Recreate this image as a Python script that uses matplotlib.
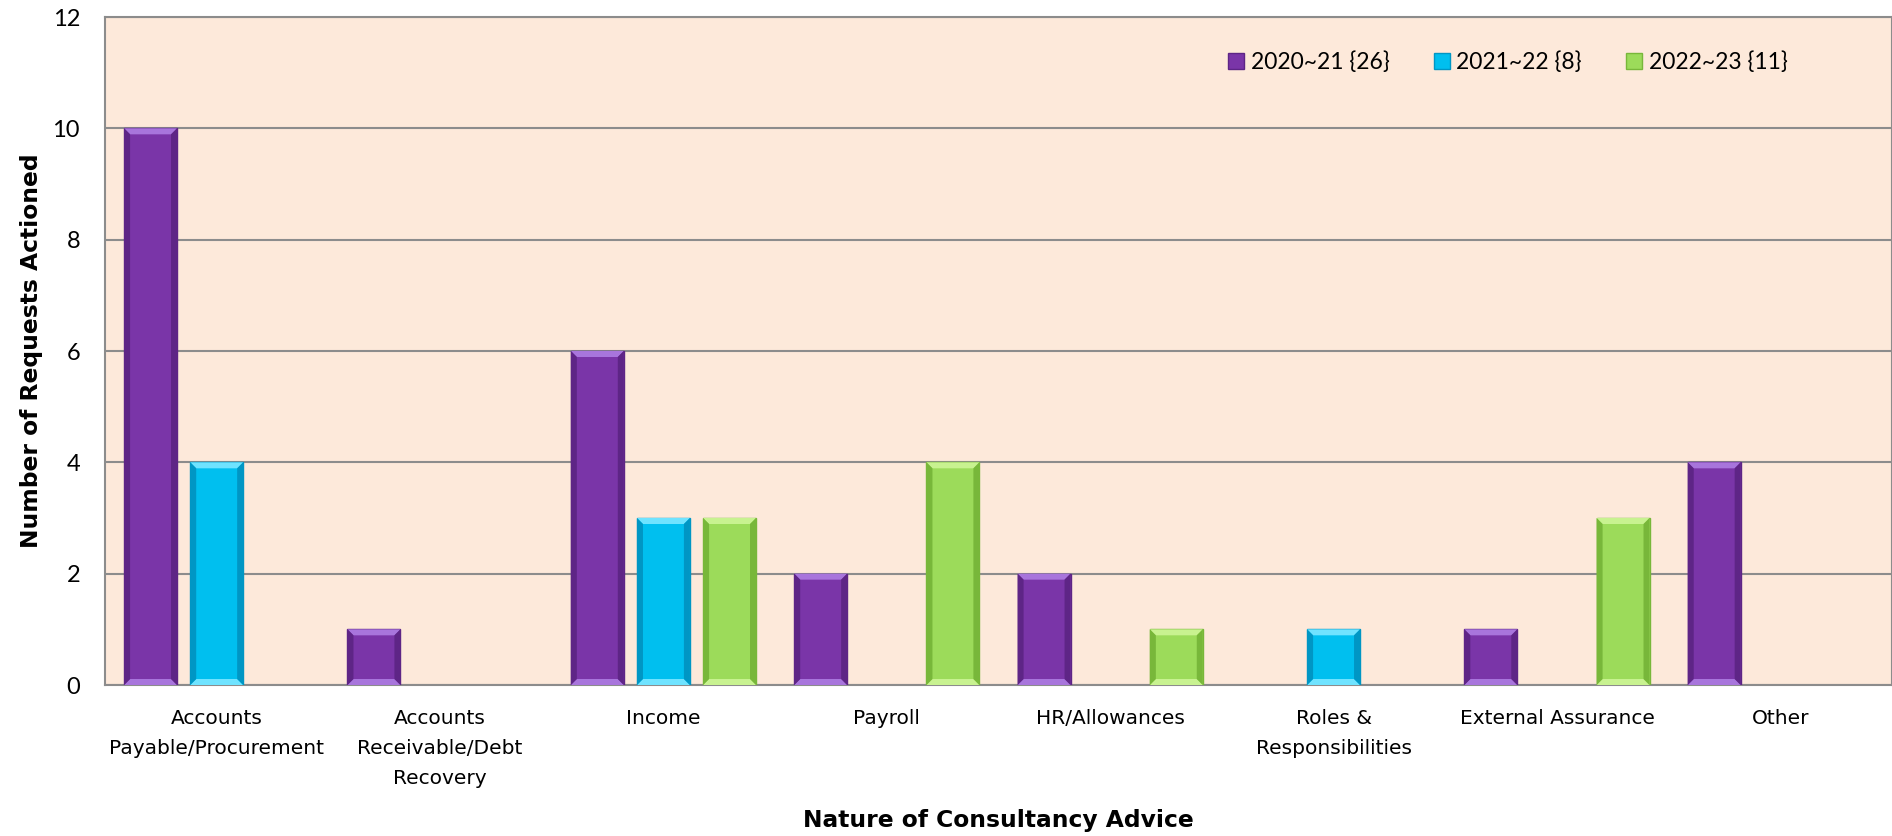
import numpy as np
import matplotlib as mpl
mpl.use('Agg')
import matplotlib.pyplot as plt
from matplotlib.patches import Polygon, Patch

# data
categories = ['Accounts\nPayable/Procurement', 'Accounts\nReceivable/Debt\nRecovery',
              'Income', 'Payroll', 'HR/Allowances', 'Roles &\nResponsibilities',
              'External Assurance', 'Other']
series_names = ['2020~21 {26}', '2021~22 {8}', '2022~23 {11}']
y2020 = [10, 1, 6, 2, 2, 0, 1, 4]
y2021 = [4, 0, 3, 0, 0, 1, 0, 0]
y2022 = [0, 0, 3, 4, 1, 0, 3, 0]

# face, light bevel, dark bevel
colors = [('#7A35A8', '#A875DC', '#5E2586'),
          ('#00BFEF', '#6FE3FF', '#0096C4'),
          ('#9CDB5A', '#C8F290', '#78B73A')]

bg = '#FDE9DA'
grid = '#8C8C8C'

fig = plt.figure(figsize=(18.92, 8.36), dpi=100)
ax = fig.add_axes([105/1892, 1-685/836, 1-105/1892, (685-17)/836])
ax.set_facecolor(bg)

x = np.arange(len(categories))
w = 0.237
step = 0.296
ymax = 12
# bevel size in px turned into data units
bev_px = 6
dy = bev_px * ymax / 668.0
dx = bev_px * 8 / 1787.0

for k, vals in enumerate([y2020, y2021, y2022]):
    face, light, dark = colors[k]
    vals = np.array(vals)
    xs = x + (k-1)*step
    keep = vals > 0   # empty bars draw nothing
    ax.bar(xs[keep], vals[keep], w, color=face, edgecolor=dark, linewidth=1, zorder=3)
    for xc, h in zip(xs[keep], vals[keep]):
        x0 = xc - w/2
        x1 = xc + w/2
        polys = [
            ([(x0, h), (x1, h), (x1-dx, h-dy), (x0+dx, h-dy)], light),
            ([(x0, 0), (x1, 0), (x1-dx, dy), (x0+dx, dy)], light),
            ([(x0, 0), (x0+dx, dy), (x0+dx, h-dy), (x0, h)], dark),
            ([(x1, 0), (x1-dx, dy), (x1-dx, h-dy), (x1, h)], dark),
        ]
        for pts, c in polys:
            ax.add_patch(Polygon(pts, closed=True, facecolor=c, edgecolor='none', zorder=4))

ax.set_xlim(-0.5, len(categories)-0.5)
ax.set_ylim(0, ymax)
ax.set_yticks(np.arange(0, 13, 2))
ax.yaxis.grid(True, color=grid, linewidth=1.5, zorder=0)
ax.set_axisbelow(True)
for s in ax.spines.values():
    s.set_color(grid)
    s.set_linewidth(1.5)

ax.set_xticks(x)
ax.set_xticklabels(categories, fontsize=14.5, family='DejaVu Sans', linespacing=1.75)
ax.tick_params(axis='x', length=0, pad=17)
ax.tick_params(axis='y', length=0, pad=18)
for t in ax.get_yticklabels():
    t.set_family('Lato')
    t.set_fontsize(17)

ax.set_ylabel('Number of Requests Actioned', fontsize=16.8, fontweight='bold', labelpad=7)
ax.set_xlabel('Nature of Consultancy Advice', fontsize=16.8, fontweight='bold', labelpad=15)

handles = [Patch(facecolor=c[0], edgecolor=c[2]) for c in colors]
leg = fig.legend(handles, series_names, loc='center right', bbox_to_anchor=(1808/1892, 1-62/836),
                 ncol=3, frameon=False, prop={'family': 'Lato', 'size': 16.5},
                 handlelength=0.7, handleheight=0.7, handletextpad=0.3, columnspacing=1.9)

fig.savefig('out.png', dpi=100)
